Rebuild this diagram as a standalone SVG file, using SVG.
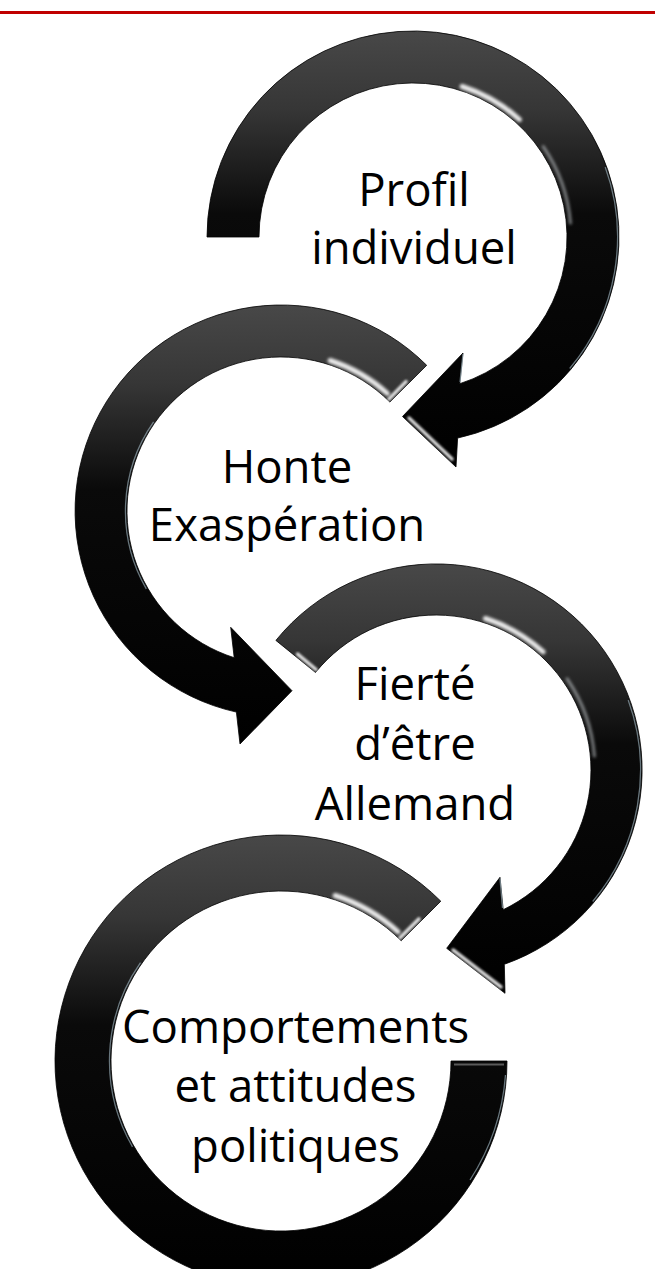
<svg xmlns="http://www.w3.org/2000/svg" width="655" height="1269" viewBox="0 0 655 1269">
  <style>
    .lbl { font-family: "Open Sans", "Noto Sans", "DejaVu Sans", sans-serif; font-size: 45.5px; fill: #000; text-anchor: middle; }
    .body { fill: url(#bodyGrad); stroke: #000; stroke-width: 0.8; }
    .gloss { fill: none; stroke: #ffffff; stroke-width: 5; stroke-linecap: round; opacity: 0.9; filter: url(#soft2); }
    .gloss2 { fill: none; stroke: #e8eef2; stroke-width: 3; stroke-linecap: round; opacity: 0.5; filter: url(#soft2); }
    .rim { fill: none; stroke: #a9bfcc; stroke-width: 1.3; opacity: 0.6; }
    .bevel { fill: none; stroke: #ffffff; stroke-width: 3.5; stroke-linecap: round; opacity: 0.85; filter: url(#soft); }
  </style>
  <defs>
    <linearGradient id="bodyGrad" x1="0" y1="0" x2="0" y2="1">
      <stop offset="0" stop-color="#484848"/>
      <stop offset="0.18" stop-color="#363636"/>
      <stop offset="0.42" stop-color="#0a0a0a"/>
      <stop offset="1" stop-color="#000000"/>
    </linearGradient>
    <filter id="soft" x="-20%" y="-20%" width="140%" height="140%">
      <feGaussianBlur stdDeviation="1.2"/>
    </filter>
    <filter id="soft2" x="-30%" y="-30%" width="160%" height="160%">
      <feGaussianBlur stdDeviation="1.8"/>
    </filter>
  </defs>

  <rect id="topRule" x="0" y="11" width="655" height="3" fill="#c00000"/>

  <g id="connectors"></g>

  <!-- Node 1 : Profil individuel (clockwise arrow) -->
  <g id="node-profil">
    <path class="body" d="M207,237 A206,206 0 1 1 457.6,438.1 L456,467 L402.5,416.5 L463,353 L459.8,383.7 A154,154 0 1 0 259,237 Z"/>
    <path class="gloss" d="M462.1,86.5 A158,158 0 0 1 519.4,119.5"/>
    <path class="gloss2" d="M543.2,146.5 A158,158 0 0 1 570.4,223.1"/>
    <path class="rim" d="M605.2,167.1 A204.5,204.5 0 0 1 569.7,368.5"/>
    <path class="bevel" d="M409,418 L452,459"/>
    <path class="rim" d="M463,354 L460,382"/>
    <text class="lbl" x="414" y="206">Profil</text>
    <text class="lbl" x="414" y="264">individuel</text>
  </g>

  <!-- Node 2 : Honte Exaspération (counter-clockwise arrow) -->
  <g id="node-honte">
    <path class="body" d="M426.7,365.3 A206,206 0 1 0 236.4,712.1 L240,744 L292,690.7 L230.7,627.3 L234.2,657.7 A154,154 0 1 1 389.9,402.1 Z"/>
    <path class="gloss" d="M330.1,360.5 A158,158 0 0 1 387.4,393.5"/>
    <path class="rim" d="M146.3,588.8 A155.5,155.5 0 0 1 153.6,421.8"/>
    <path class="bevel" d="M406,381.6 L389,399"/>
    <text class="lbl" x="287" y="483">Honte</text>
    <text class="lbl" x="287" y="541">Exaspération</text>
  </g>

  <!-- Node 3 : Fierté d'être Allemand (clockwise arrow) -->
  <g id="node-fierte">
    <path class="body" d="M275.9,640.4 A206,206 0 1 1 504.3,964.3 L505,993.3 L446.7,948.3 L500,877.3 L503.2,909.7 A155,155 0 1 0 315.5,672.5 Z"/>
    <path class="gloss" d="M485.4,618.5 A159,159 0 0 1 543.1,651.8"/>
    <path class="gloss2" d="M567.1,678.8 A159,159 0 0 1 594.4,756.1"/>
    <path class="rim" d="M628.2,700.1 A204.5,204.5 0 0 1 592.7,901.5"/>
    <path class="bevel" d="M297.6,654.2 L316,669.5"/>
    <path class="bevel" d="M453,950 L501,987"/>
    <path class="rim" d="M500,878.5 L502.5,908"/>
    <text class="lbl" x="415" y="700">Fierté</text>
    <text class="lbl" x="415" y="760">d’être</text>
    <text class="lbl" x="415" y="820">Allemand</text>
  </g>

  <!-- Node 4 : Comportements et attitudes politiques (counter-clockwise, no head) -->
  <g id="node-comportements">
    <path class="body" d="M440.8,901.2 A226,226 0 1 0 507,1061 L451,1061 A170,170 0 1 1 401.2,940.8 Z"/>
    <path class="gloss" d="M335.1,895.5 A174,174 0 0 1 398.1,931.8"/>
    <path class="rim" d="M132.5,1146.8 A171.5,171.5 0 0 1 140.5,962.6"/>
    <path class="rim" d="M505.5,1075 A224.5,224.5 0 0 1 470,1180"/>
    <path class="bevel" d="M418.9,918.9 L400,937.8"/>
    <path d="M454,1064.5 L504,1064.5" stroke="#5a5a5a" stroke-width="2" fill="none"/>
    <text class="lbl" x="295.5" y="1043">Comportements</text>
    <text class="lbl" x="295.5" y="1102">et attitudes</text>
    <text class="lbl" x="295.5" y="1162">politiques</text>
  </g>
</svg>
